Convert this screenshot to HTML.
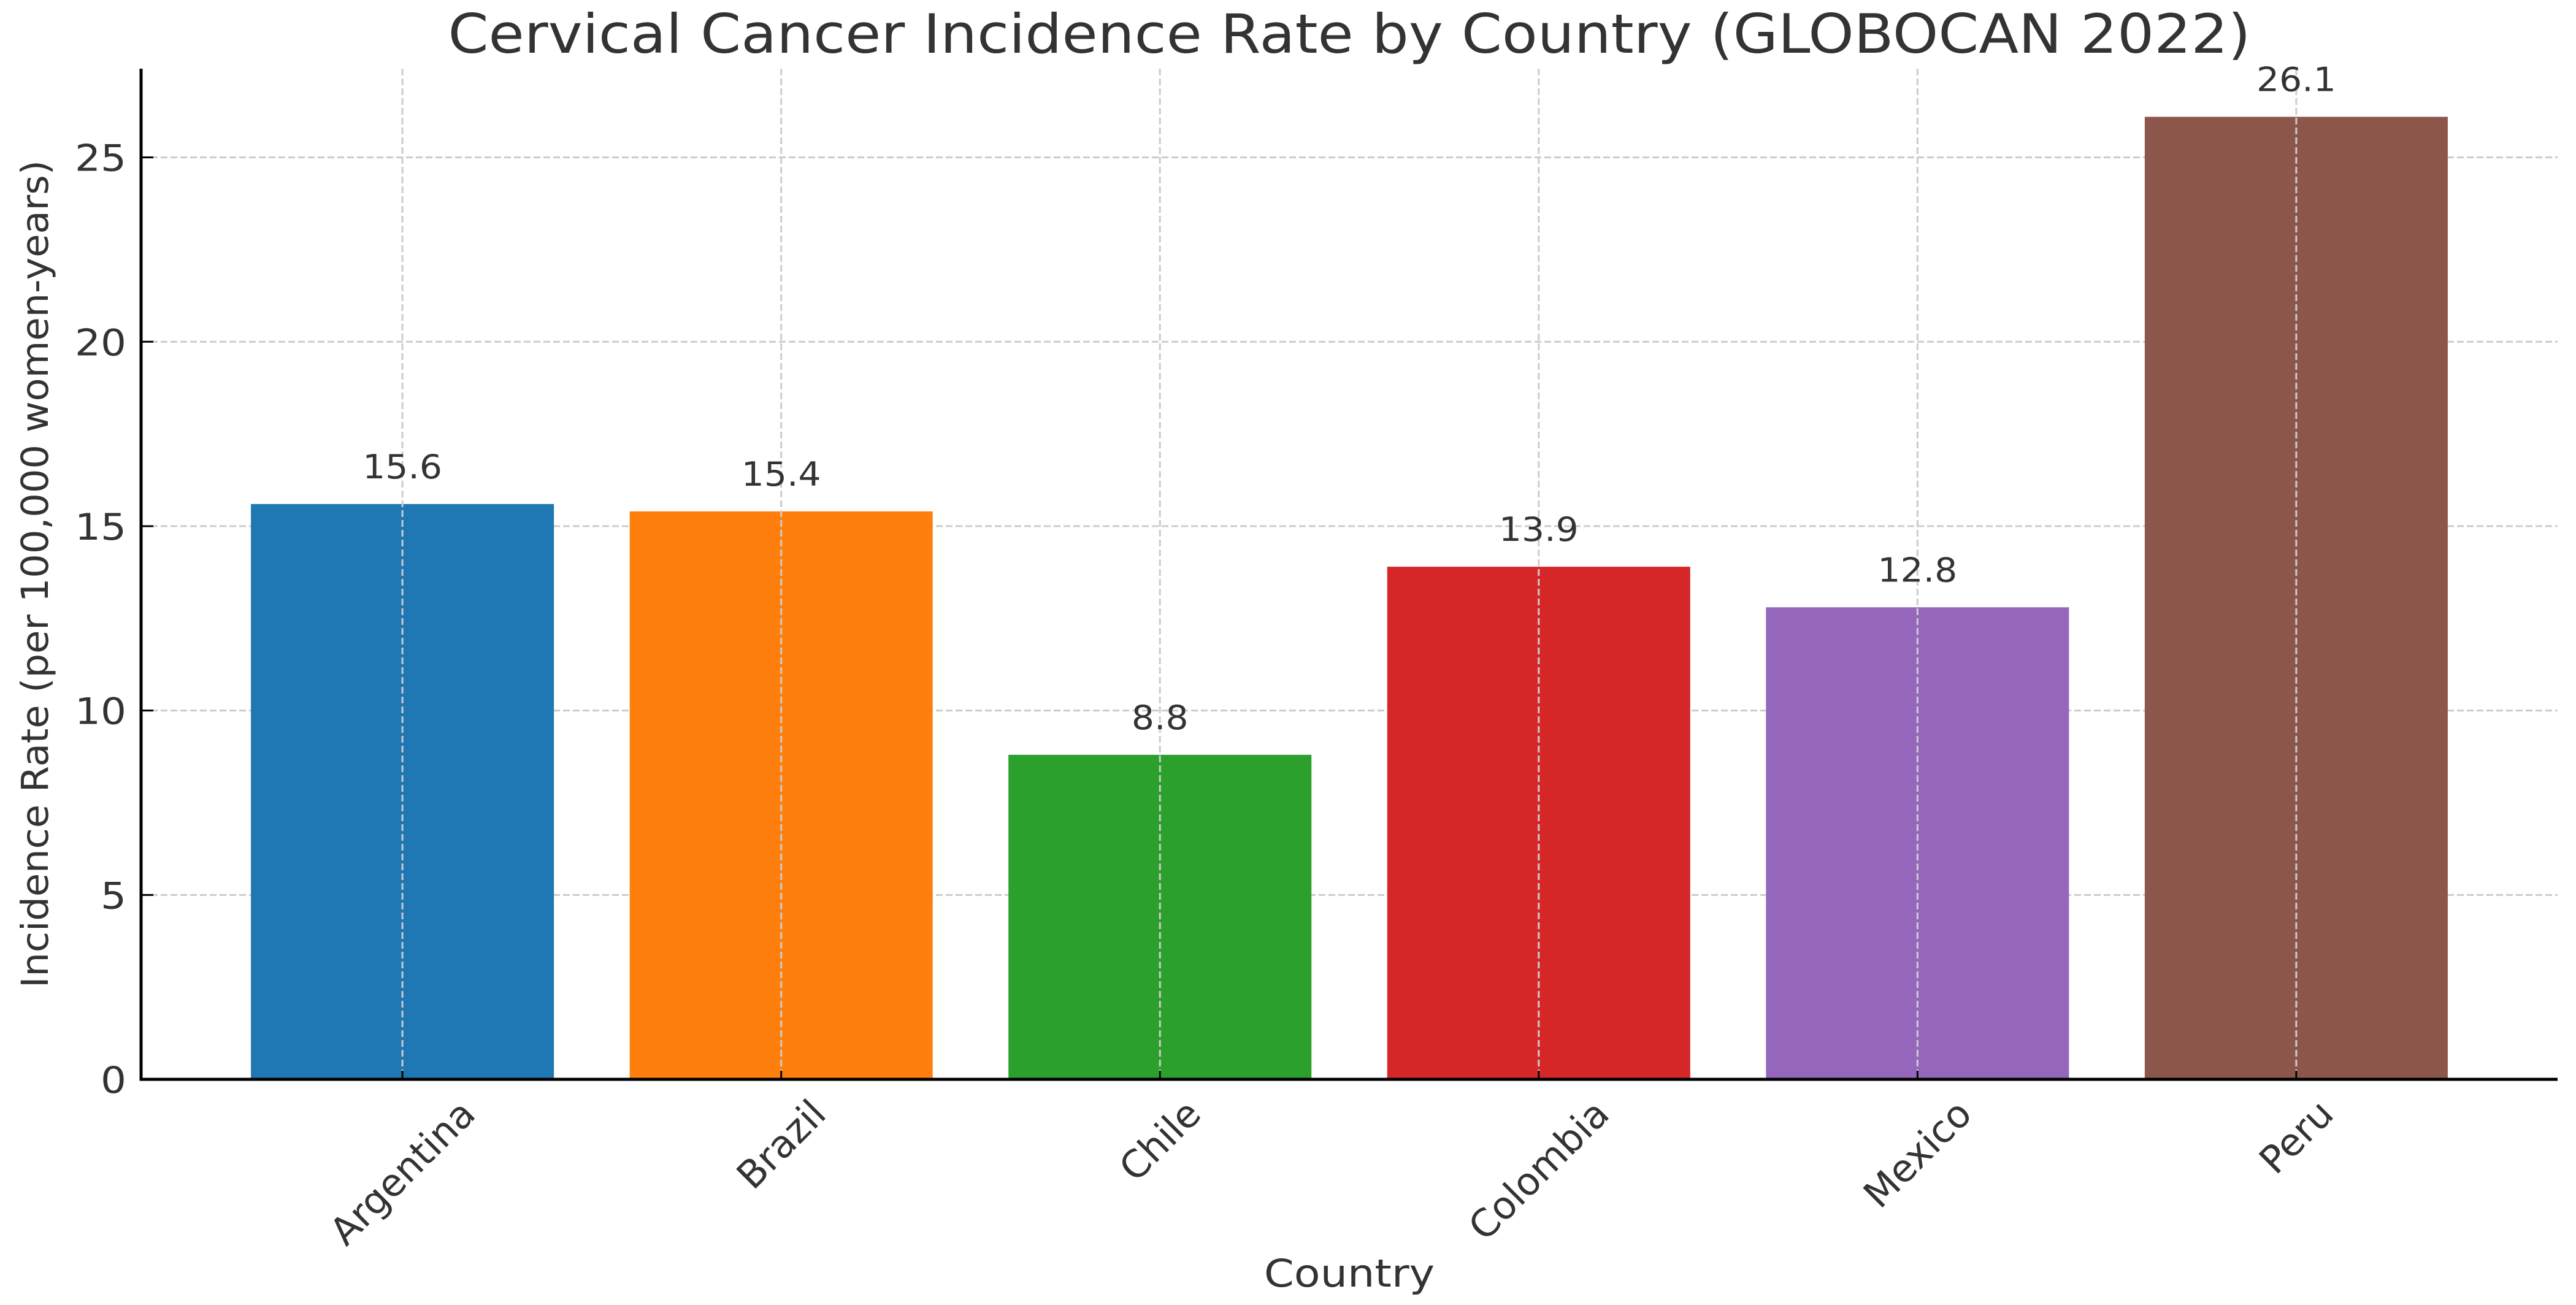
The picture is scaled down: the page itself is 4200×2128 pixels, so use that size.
<!DOCTYPE html>
<html><head><meta charset="utf-8"><style>
html,body{margin:0;padding:0;background:#fff;}
svg{display:block;}
text{font-family:"DejaVu Sans","Liberation Sans",sans-serif;fill:#333;}
</style></head><body>
<svg id="chart" width="4200" height="2128" viewBox="0 0 4200 2128" xmlns="http://www.w3.org/2000/svg">
<text x="0" y="0" font-size="88" text-anchor="middle" transform="translate(2200,86) scale(1.075,1)">Cervical Cancer Incidence Rate by Country (GLOBOCAN 2022)</text>
<g id="grid"></g>
<g id="bars"></g>
<g id="labels"></g>
<g id="axes"></g>
<text x="0" y="0" font-size="62" text-anchor="middle" transform="translate(2200,2098) scale(1.13,1)">Country</text>
<text x="0" y="0" font-size="61" text-anchor="middle" transform="translate(78,936) rotate(-90) scale(1.02,1)">Incidence Rate (per 100,000 women-years)</text>
</svg>
<script>
const categories = ["Argentina","Brazil","Chile","Colombia","Mexico","Peru"];
const values = [15.6,15.4,8.8,13.9,12.8,26.1];
const valueLabels = ["15.6","15.4","8.8","13.9","12.8","26.1"];
const colors = ["#1f77b4","#ff7f0e","#2ca02c","#d62728","#9467bd","#8c564b"];
const yTicks = [0,5,10,15,20,25];
const yTickLabels = ["0","5","10","15","20","25"];

const NS="http://www.w3.org/2000/svg";
const L=230,R=4170,T=112,B=1760;
const yMax=27.405;
function y(v){return B-(v/yMax)*(B-T);}
const xmin=-0.69,xmax=categories.length-1+0.69;
function x(i){return L+(i-xmin)/(xmax-xmin)*(R-L);}
const bw=0.8*(x(1)-x(0));
function mk(tag,attrs,parent){const e=document.createElementNS(NS,tag);for(const k in attrs)e.setAttribute(k,attrs[k]);parent.appendChild(e);return e;}
const grid=document.getElementById('grid'),bars=document.getElementById('bars'),labels=document.getElementById('labels'),axes=document.getElementById('axes');
yTicks.forEach((t,i)=>{
  if(t>0){const g=mk('line',{x1:L,x2:R,y1:y(t),y2:y(t),stroke:'#cccccc','stroke-width':3,'stroke-dasharray':'11 5'},grid);
  
  }
  const tk=mk('line',{x1:L,x2:L+20,y1:y(t),y2:y(t),stroke:'#000','stroke-width':3},axes);
  
  
  const tl=mk('text',{x:0,y:0,'font-size':60,'text-anchor':'end',transform:'translate(206,'+(y(t)+22)+') scale(1.1,1)'},axes);
  tl.textContent=yTickLabels[i];
  
  
});
categories.forEach((c,i)=>{
  const cx=x(i);
  const r=mk('rect',{x:cx-bw/2,y:y(values[i]),width:bw,height:B-y(values[i]),fill:colors[i]},bars);
  
  
  const g=mk('line',{x1:cx,x2:cx,y1:T,y2:B,stroke:'#cccccc','stroke-width':3,'stroke-dasharray':'11 5'},labels);
  
  
  const vl=mk('text',{x:0,y:0,'font-size':54,'text-anchor':'middle',transform:'translate('+cx+','+(y(values[i])-42)+') scale(1.08,1)'},labels);
  vl.textContent=valueLabels[i];
  
  
  const tk=mk('line',{x1:cx,x2:cx,y1:B,y2:B-14,stroke:'#000','stroke-width':3},axes);
  
  
  const xl=mk('text',{x:0,y:0,'font-size':62,'text-anchor':'middle','dominant-baseline':'central'},axes);
  xl.textContent=c;
  
  
  const w=xl.getComputedTextLength(),h=62;
  const ext=(w+h)/Math.SQRT2;
  xl.setAttribute('transform','translate('+cx+','+(1783+ext/2)+') rotate(-45)');
});
const sl=mk('line',{x1:L,x2:L,y1:T,y2:B+2,stroke:'#000','stroke-width':5},axes);


const sb=mk('line',{x1:L-2,x2:R,y1:B,y2:B,stroke:'#000','stroke-width':5},axes);


</script>
</body></html>
